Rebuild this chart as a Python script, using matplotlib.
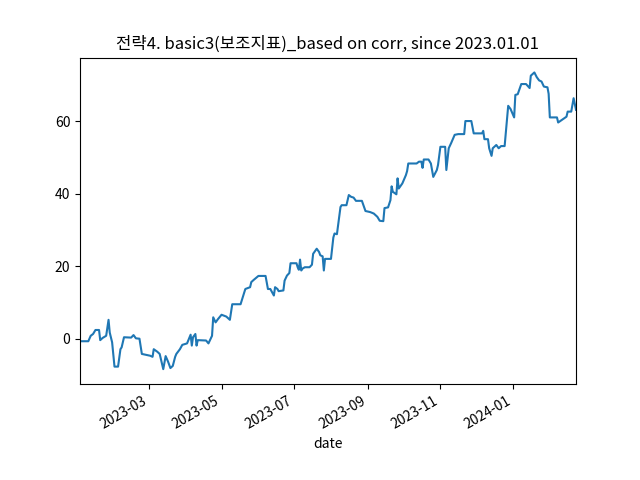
import numpy as np
import pandas as pd
import matplotlib
matplotlib.use('Agg')
import matplotlib.pyplot as plt
import matplotlib.dates as mdates
from matplotlib.ticker import MultipleLocator

plt.rcParams['font.family'] = ['Noto Sans CJK KR', 'DejaVu Sans']
plt.rcParams['axes.unicode_minus'] = False

# cumulative return (%)
dates = [
    '2023-01-02', '2023-01-09', '2023-01-11', '2023-01-13', '2023-01-15', '2023-01-18',
    '2023-01-19', '2023-01-21', '2023-01-24', '2023-01-26', '2023-01-27', '2023-01-29',
    '2023-01-31', '2023-02-03', '2023-02-05', '2023-02-06', '2023-02-08', '2023-02-14',
    '2023-02-16', '2023-02-18', '2023-02-21', '2023-02-23', '2023-02-27', '2023-03-02',
    '2023-03-04', '2023-03-05', '2023-03-08', '2023-03-10', '2023-03-13', '2023-03-15',
    '2023-03-17', '2023-03-19', '2023-03-21', '2023-03-23', '2023-03-24', '2023-03-27',
    '2023-03-29', '2023-03-31', '2023-04-02', '2023-04-05', '2023-04-06', '2023-04-07',
    '2023-04-09', '2023-04-10', '2023-04-11', '2023-04-18', '2023-04-20', '2023-04-23',
    '2023-04-24', '2023-04-26', '2023-04-28', '2023-05-01', '2023-05-05', '2023-05-08',
    '2023-05-10', '2023-05-17', '2023-05-21', '2023-05-25', '2023-05-26', '2023-05-28',
    '2023-05-31', '2023-06-01', '2023-06-07', '2023-06-09', '2023-06-11', '2023-06-14',
    '2023-06-15', '2023-06-17', '2023-06-18', '2023-06-22', '2023-06-23', '2023-06-25',
    '2023-06-27', '2023-06-28', '2023-07-03', '2023-07-04', '2023-07-05', '2023-07-06',
    '2023-07-07', '2023-07-08', '2023-07-10', '2023-07-14', '2023-07-16', '2023-07-17',
    '2023-07-19', '2023-07-20', '2023-07-22', '2023-07-23', '2023-07-25', '2023-07-26',
    '2023-07-27', '2023-08-01', '2023-08-03', '2023-08-04', '2023-08-06', '2023-08-09',
    '2023-08-10', '2023-08-14', '2023-08-16', '2023-08-18', '2023-08-20', '2023-08-22',
    '2023-08-27', '2023-08-30', '2023-09-03', '2023-09-06', '2023-09-09', '2023-09-11',
    '2023-09-14', '2023-09-15', '2023-09-18', '2023-09-20', '2023-09-21', '2023-09-22',
    '2023-09-25', '2023-09-26', '2023-09-27', '2023-09-30', '2023-10-03', '2023-10-04',
    '2023-10-05', '2023-10-12', '2023-10-14', '2023-10-16', '2023-10-17', '2023-10-18',
    '2023-10-22', '2023-10-24', '2023-10-26', '2023-10-29', '2023-10-30', '2023-11-01',
    '2023-11-05', '2023-11-06', '2023-11-08', '2023-11-10', '2023-11-13', '2023-11-16',
    '2023-11-21', '2023-11-22', '2023-11-27', '2023-11-29', '2023-12-06', '2023-12-07',
    '2023-12-08', '2023-12-11', '2023-12-12', '2023-12-14', '2023-12-15', '2023-12-18',
    '2023-12-20', '2023-12-22', '2023-12-25', '2023-12-28', '2023-12-30', '2024-01-02',
    '2024-01-03', '2024-01-05', '2024-01-08', '2024-01-12', '2024-01-15', '2024-01-16',
    '2024-01-19', '2024-01-21', '2024-01-23', '2024-01-25', '2024-01-27', '2024-01-30',
    '2024-01-31', '2024-02-01', '2024-02-07', '2024-02-08', '2024-02-11', '2024-02-15',
    '2024-02-16', '2024-02-19', '2024-02-21', '2024-02-23',
]
values = [
    -0.7, -0.7, 0.8, 1.3, 2.4, 2.4,
    -0.4, 0.2, 0.8, 5.2, 1.7, -1.0,
    -7.7, -7.7, -2.9, -2.4, 0.4, 0.3,
    1.0, 0.1, 0.0, -4.2, -4.5, -4.7,
    -5.0, -2.9, -3.6, -4.2, -8.4, -4.8,
    -6.3, -8.1, -7.5, -5.0, -4.2, -2.9,
    -1.7, -1.5, -1.3, 1.1, -1.9, 0.4,
    1.3, -1.9, -0.4, -0.5, -1.3, 0.8,
    5.9, 4.5, 5.4, 6.6, 6.1, 5.2,
    9.5, 9.5, 13.7, 14.2, 15.6, 16.2,
    17.0, 17.3, 17.3, 13.7, 13.7, 11.9,
    14.2, 13.7, 13.1, 13.3, 16.0, 17.4,
    18.1, 20.8, 20.8, 19.7, 19.0, 21.8,
    18.8, 19.3, 19.7, 19.7, 20.4, 23.4,
    24.3, 24.8, 23.9, 23.0, 22.7, 18.8,
    22.0, 22.0, 27.9, 29.0, 28.8, 36.3,
    36.8, 36.8, 39.6, 39.1, 38.9, 38.0,
    38.0, 35.2, 34.9, 34.5, 33.6, 32.5,
    32.4, 36.0, 36.2, 38.2, 42.0, 40.5,
    39.8, 44.2, 41.4, 42.8, 45.1, 46.2,
    48.3, 48.3, 48.8, 48.8, 47.1, 49.4,
    49.4, 48.3, 44.6, 46.5, 47.9, 52.9,
    52.9, 46.5, 52.5, 53.9, 56.2, 56.4,
    56.4, 60.0, 60.0, 56.6, 56.6, 57.3,
    55.0, 55.0, 52.5, 50.4, 52.5, 53.4,
    52.5, 53.1, 53.1, 64.2, 63.3, 61.0,
    67.2, 67.4, 70.2, 70.2, 69.1, 72.5,
    73.4, 72.1, 71.2, 70.9, 69.5, 69.3,
    67.5, 61.0, 61.0, 59.6, 60.3, 61.2,
    62.6, 62.6, 66.3, 63.1,
]

x = pd.to_datetime(dates)

fig, ax = plt.subplots(figsize=(6.4, 4.8), dpi=100)
ax.plot(x, values, color='#1f77b4', linewidth=1.5)
ax.set_xlim(x[0], x[-1])
ax.xaxis.set_major_locator(mdates.MonthLocator(bymonth=[1, 3, 5, 7, 9, 11]))
ax.xaxis.set_major_formatter(mdates.DateFormatter('%Y-%m'))
ax.yaxis.set_major_locator(MultipleLocator(20))
ax.set_xlabel('date')
ax.set_title('전략4. basic3(보조지표)_based on corr, since 2023.01.01')
fig.autofmt_xdate()

fig.savefig('out.png', dpi=100)
